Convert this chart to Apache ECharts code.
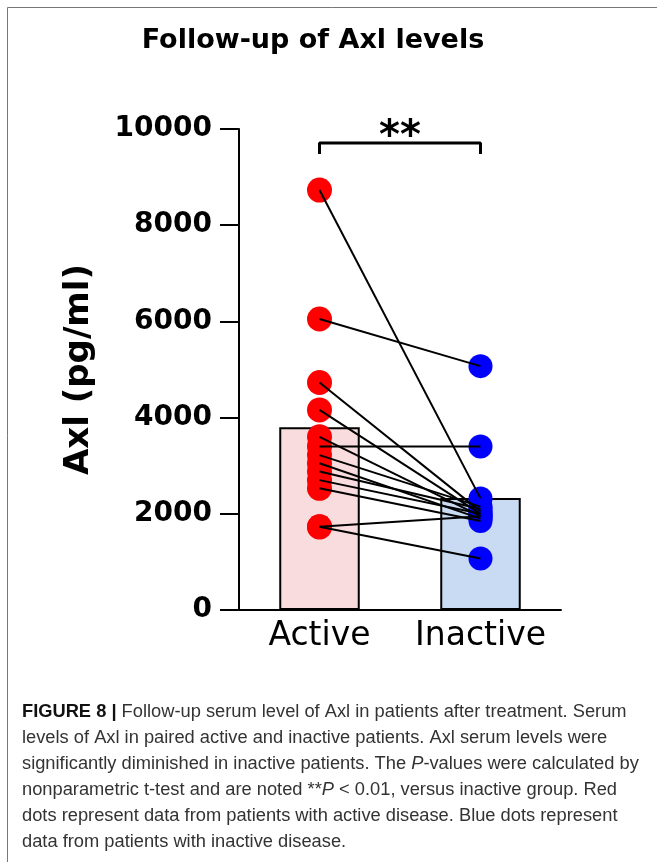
<!DOCTYPE html>
<html><head><meta charset="utf-8">
<script src="https://cdn.jsdelivr.net/npm/echarts@6/dist/echarts.min.js"></script>
<style>html,body{margin:0;padding:0;background:#fff}#c{width:657px;height:862px}</style>
</head><body><div id="c"></div>
<script>
// ---- data ----
const categories = ['Active', 'Inactive'];
const barMeans = [3800, 2330];
const activeValues   = [8730, 6050, 4730, 4160, 3600, 3400, 3220, 3050, 2880, 2700, 2530, 1730, 1730];
const inactiveValues = [2320, 5070, 2050, 2000, 1950, 3400, 2150, 1900, 2100, 2000, 1850, 1950, 1070];
const yMin = 0, yMax = 10000, yInterval = 2000;
const bracketTop = 9710, bracketTip = 9480, starValue = 10020;
const titleText = 'Follow-up of Axl levels';
const yName = 'Axl (pg/ml)';
const captionText =
  '{b|FIGURE 8 |} Follow-up serum level of Axl in patients after treatment. Serum\n' +
  'levels of Axl in paired active and inactive patients. Axl serum levels were\n' +
  'significantly diminished in inactive patients. The {i|P}-values were calculated by\n' +
  'nonparametric t-test and are noted **{i|P} < 0.01, versus inactive group. Red\n' +
  'dots represent data from patients with active disease. Blue dots represent\n' +
  'data from patients with inactive disease.';

const barColors = ['#f9dcdd', '#c8dbf3'];
const capSize = 18.3;

const chart = echarts.init(document.getElementById('c'), null, {renderer: 'canvas'});

const pairSeries = activeValues.map((a, i) => ({
  type: 'line', xAxisIndex: 1, yAxisIndex: 0,
  data: [[0, a], [1, inactiveValues[i]]],
  symbol: 'none', silent: true, animation: false,
  lineStyle: {color: '#000', width: 2}, z: 5
}));

chart.setOption({
  animation: false,
  backgroundColor: '#fff',
  title: {
    text: titleText, left: 308, top: 22, textAlign: 'center',
    textStyle: {fontFamily: 'DejaVu Sans', fontWeight: 'bold', fontSize: 27, color: '#000'}
  },
  grid: {left: 239, right: 96, top: 129, bottom: 252, containLabel: false},
  xAxis: [{
    type: 'category', data: categories, boundaryGap: true,
    axisLine: {lineStyle: {color: '#000', width: 2}},
    axisTick: {alignWithLabel: true, length: 6, lineStyle: {color: '#000', width: 2}},
    axisLabel: {interval: 0, hideOverlap: false, fontFamily: 'DejaVu Sans', fontSize: 33, color: '#000', margin: 10}
  }, {
    type: 'value', min: -0.5, max: 1.5, show: false
  }],
  yAxis: {
    type: 'value', min: yMin, max: yMax, interval: yInterval,
    name: yName, nameLocation: 'middle', nameGap: 143,
    nameTextStyle: {fontFamily: 'DejaVu Sans', fontWeight: 'bold', fontSize: 34, color: '#000'},
    axisLine: {show: true, onZero: false, lineStyle: {color: '#000', width: 2}},
    axisTick: {show: true, length: 19, lineStyle: {color: '#000', width: 2}},
    axisLabel: {fontFamily: 'DejaVu Sans', fontWeight: 'bold', fontSize: 28, color: '#000', margin: 27,
      formatter: v => String(v)},
    splitLine: {show: false}
  },
  series: [{
    type: 'bar', xAxisIndex: 0, barWidth: '50%',
    data: barMeans.map((v, i) => ({value: v, itemStyle: {color: barColors[i]}})),
    itemStyle: {borderColor: '#000', borderWidth: 2}, z: 2
  }, {
    type: 'scatter', xAxisIndex: 1, data: activeValues.map(v => [0, v]),
    symbolSize: 25, itemStyle: {color: '#ff0000', opacity: 1}, z: 3
  }, {
    type: 'scatter', xAxisIndex: 1, data: inactiveValues.map(v => [1, v]),
    symbolSize: 24, itemStyle: {color: '#0000ff', opacity: 1}, z: 3
  }].concat(pairSeries).concat([{
    type: 'line', xAxisIndex: 1,
    data: [[0, bracketTip], [0, bracketTop], [1, bracketTop], [1, bracketTip]],
    symbol: 'none', lineStyle: {color: '#000', width: 3}, z: 5
  }, {
    type: 'scatter', xAxisIndex: 1, data: [[0.5, starValue]], symbolSize: 2, clip: false,
    itemStyle: {color: 'rgba(0,0,0,0)'},
    label: {show: true, position: 'inside', formatter: '**', fontFamily: 'DejaVu Sans',
      fontWeight: 'bold', fontSize: 40, color: '#000', textBorderWidth: 0, opacity: 1, offset: [0, 10]}, z: 6
  }]),
  graphic: [{
    type: 'rect', shape: {x: 7.5, y: 7.5, width: 700, height: 900},
    style: {fill: 'none', stroke: '#777', lineWidth: 1}, silent: true
  }, {
    type: 'text', left: 22, top: 699,
    style: {
      text: captionText, fontFamily: 'Liberation Sans', fontSize: capSize, lineHeight: 26,
      fill: '#333',
      rich: {
        b: {fontFamily: 'Liberation Sans', fontWeight: 'bold', fontSize: capSize, fill: '#111', lineHeight: 26},
        i: {fontFamily: 'Liberation Sans', fontStyle: 'italic', fontSize: capSize, fill: '#333', lineHeight: 26}
      }
    }
  }]
});
</script></body></html>
